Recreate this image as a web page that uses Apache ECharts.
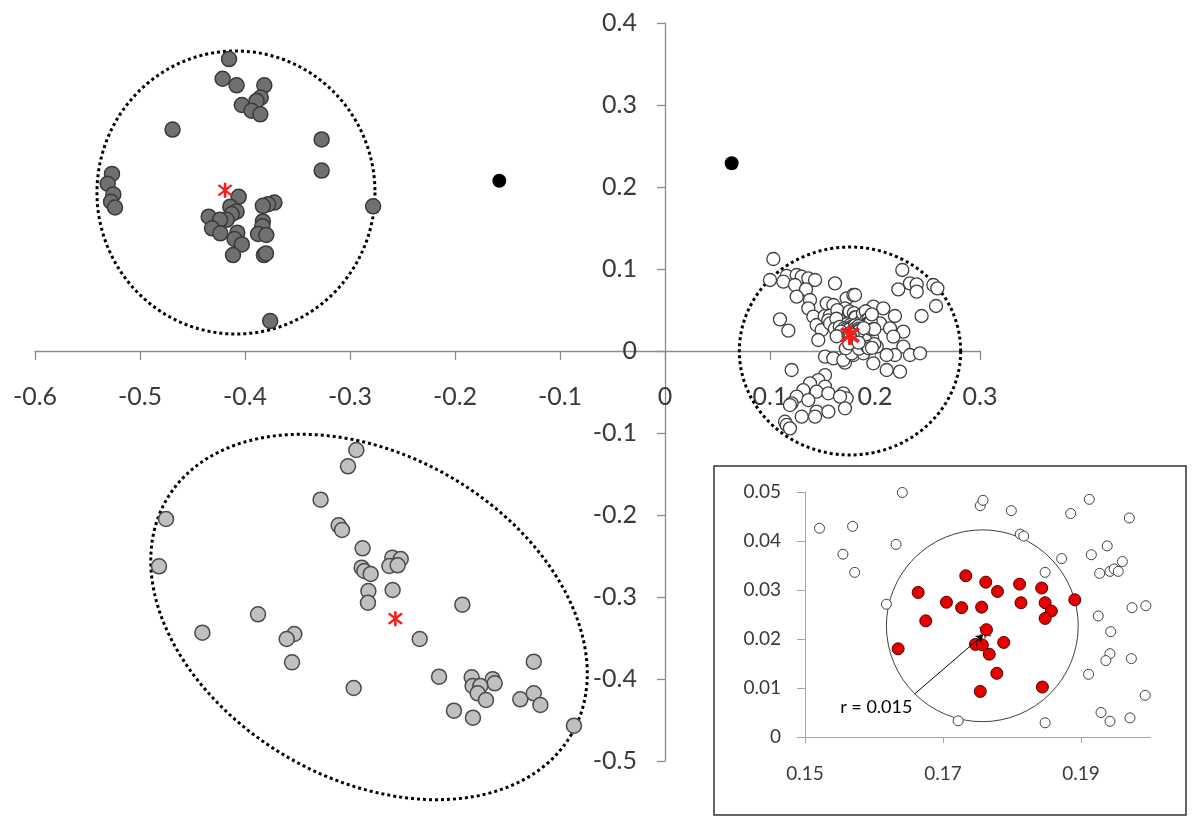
<!DOCTYPE html>
<html><head><meta charset="utf-8">
<script src="https://cdn.jsdelivr.net/npm/echarts@6/dist/echarts.min.js"></script>
<style>html,body{margin:0;padding:0;background:#fff}#c{width:1200px;height:821px}</style>
</head><body><div id="c"></div>
<script>
// ---------- main chart data ----------
const mainXRange = [-0.6, 0.3];
const mainYRange = [-0.5, 0.4];
const group1 = [
[-0.4152,0.356],[-0.4213,0.332],[-0.408,0.324],[-0.3816,0.324],[-0.385,0.309],[-0.389,0.305],[-0.403,0.300],[-0.3937,0.293],[-0.3854,0.2886],[-0.469,0.270],[-0.327,0.258],[-0.327,0.220],[-0.5267,0.216],[-0.5308,0.204],[-0.5254,0.191],[-0.5276,0.182],[-0.5238,0.175],[-0.278,0.1764],[-0.406,0.188],[-0.372,0.181],[-0.378,0.179],[-0.383,0.177],[-0.414,0.176],[-0.408,0.170],[-0.4127,0.167],[-0.4346,0.1638],[-0.4175,0.160],[-0.4238,0.160],[-0.383,0.158],[-0.3835,0.152],[-0.4314,0.1496],[-0.4235,0.1435],[-0.4073,0.1443],[-0.3876,0.1427],[-0.3797,0.1415],[-0.410,0.1366],[-0.403,0.130],[-0.4114,0.117],[-0.382,0.117],[-0.380,0.119],[-0.376,0.0366]
];
const group3 = [
[-0.294,-0.1207],[-0.3019,-0.1406],[-0.328,-0.1813],[-0.4752,-0.2049],[-0.3108,-0.2126],[-0.3076,-0.2183],[-0.288,-0.2406],[-0.4819,-0.2626],[-0.2597,-0.252],[-0.2517,-0.2537],[-0.2625,-0.2622],[-0.2546,-0.2614],[-0.2889,-0.2642],[-0.2863,-0.2683],[-0.2803,-0.272],[-0.2594,-0.2915],[-0.2825,-0.2927],[-0.2829,-0.307],[-0.193,-0.3094],[-0.3876,-0.3211],[-0.4406,-0.3435],[-0.353,-0.3451],[-0.3603,-0.3512],[-0.2336,-0.3512],[-0.3552,-0.3797],[-0.125,-0.3789],[-0.2965,-0.411],[-0.2152,-0.3972],[-0.1841,-0.398],[-0.1641,-0.4004],[-0.1622,-0.4053],[-0.1832,-0.4085],[-0.1759,-0.4085],[-0.1784,-0.4175],[-0.1705,-0.4256],[-0.1378,-0.4248],[-0.125,-0.4175],[-0.1187,-0.4317],[-0.201,-0.4386],[-0.1829,-0.4472],[-0.0867,-0.4569]
];
const group2Outer = [
[0.1032,0.1122],[0.1000,0.0866],[0.1159,0.0915],[0.1127,0.0845],[0.1254,0.0927],[0.1302,0.0906],[0.1365,0.0886],[0.1429,0.0866],[0.1238,0.0805],[0.1343,0.0752],[0.1254,0.0663],[0.1381,0.0622],[0.1365,0.0520],[0.1413,0.0419],[0.1444,0.0317],[0.1492,0.0256],[0.1460,0.0134],[0.1540,0.0581],[0.1619,0.0825],[0.1603,0.0561],[0.1095,0.0386],[0.1175,0.0248],[0.1730,0.0642],[0.1794,0.0683],[0.1810,0.0683],[0.1714,0.0520],[0.1524,-0.0069],[0.1603,-0.0090],[0.1714,-0.0142],[0.1794,-0.0049],[0.1698,-0.0110],[0.1778,-0.0030],[0.1984,0.0541],[0.2079,0.0520],[0.2190,0.0427],[0.2048,0.0337],[0.2143,0.0276],[0.2270,0.0236],[0.2175,0.0175],[0.2270,0.0053],[0.2333,-0.0049],[0.2429,-0.0028],[0.2190,-0.0049],[0.2016,0.0053],[0.2111,-0.0049],[0.1984,-0.0150],[0.2111,-0.0232],[0.2238,-0.0252],[0.1889,-0.0028],[0.2260,0.0988],[0.2222,0.0752],[0.2333,0.0825],[0.2397,0.0813],[0.2397,0.0724],[0.2556,0.0805],[0.2594,0.0764],[0.2581,0.0549],[0.2444,0.0427],[0.1206,-0.0232],[0.1524,-0.0293],[0.1460,-0.0354],[0.1381,-0.0394],[0.1524,-0.0435],[0.1317,-0.0476],[0.1444,-0.0496],[0.1556,-0.0516],[0.1254,-0.0557],[0.1698,-0.0516],[0.1730,-0.0577],[0.1667,-0.0557],[0.1206,-0.0638],[0.1365,-0.0598],[0.1190,-0.0659],[0.1444,-0.0740],[0.1556,-0.0740],[0.1302,-0.0801],[0.1429,-0.0800],[0.1714,-0.0699],[0.1143,-0.0862],[0.1159,-0.0902],[0.1190,-0.0943]
];
const outliers = [[-0.1578,0.2077],[0.0635,0.229]];
const centroids = [[-0.419,0.196],[-0.2568,-0.3264]];
const centroid2 = [[0.1762,0.0195]];
// [centre x, centre y, semi-axis along x units, semi-axis along y units, tilt (deg)]
const clusterOutlines = [
  [-0.4086,0.1933,0.1324,0.1726,0],
  [0.1762,0.0,0.1054,0.1268,0],
  [-0.2819,-0.3244,0.2229,0.1976,30]
];

// ---------- inset data ----------
const insetXRange = [0.15, 0.2];
const insetYRange = [0, 0.05];
const insetXTicks = [0.15, 0.17, 0.19];
const insetOpen = [
[0.1521,0.0426],[0.1569,0.0430],[0.1555,0.0373],[0.1572,0.0336],[0.1641,0.0499],[0.1632,0.0393],[0.1618,0.0271],[0.1722,0.0033],[0.1754,0.0472],[0.1758,0.0483],[0.1799,0.0462],[0.1812,0.0414],[0.1817,0.0410],[0.1848,0.0336],[0.1872,0.0364],[0.1848,0.0029],[0.1885,0.0456],[0.1912,0.0485],[0.1915,0.0372],[0.1938,0.0390],[0.1927,0.0334],[0.1942,0.0338],[0.1948,0.0343],[0.1954,0.0338],[0.1960,0.0358],[0.1970,0.0447],[0.1925,0.0247],[0.1943,0.0215],[0.1942,0.0170],[0.1936,0.0156],[0.1973,0.0160],[0.1974,0.0264],[0.1994,0.0268],[0.1911,0.0128],[0.1993,0.0085],[0.1929,0.0050],[0.1942,0.0032],[0.1971,0.0039]
];
const insetRed = [
[0.1733,0.0329],[0.1762,0.0316],[0.1779,0.0297],[0.1664,0.0295],[0.1705,0.0275],[0.1727,0.0264],[0.1756,0.0265],[0.1811,0.0312],[0.1813,0.0274],[0.1843,0.0304],[0.1848,0.0274],[0.1857,0.0257],[0.1848,0.0242],[0.1891,0.0280],[0.1675,0.0237],[0.1635,0.0180],[0.1763,0.0219],[0.1747,0.0189],[0.1757,0.0188],[0.1788,0.0193],[0.1767,0.0169],[0.1778,0.0130],[0.1754,0.0093],[0.1844,0.0102]
];
const insetCentre = [[0.1761,0.0215]];
const insetCircle = [[0.1757,0.0227,0.0139]];
const pointerLine = [[0.1659,0.0088],[0.1758,0.0208]];
const radiusLabel = [[0.1551,0.0061,'r = 0.015']];

const group2All = group2Outer.concat(insetOpen, insetRed);

const STAR = 'path://M8.5,0L11.5,0L11.5,20L8.5,20Z M1,4.1L3,1.9L19,15.9L17,18.1Z M17,1.9L19,4.1L3,18.1L1,15.9Z';
const FONT = 'Lato';

// main plot box in pixels
const G = {left: 35, top: 23, width: 945, height: 738};
// offsets placing the axes through the origin
const xAxisShift = -(G.height * (0 - mainYRange[0]) / (mainYRange[1] - mainYRange[0]));
const yAxisShift = -(G.width * (0 - mainXRange[0]) / (mainXRange[1] - mainXRange[0]));

function renderOutline(params, api) {
  const c = api.coord([api.value(0), api.value(1)]);
  const a = api.size([api.value(2), 0])[0];
  const b = api.size([0, api.value(3)])[1];
  const th = api.value(4) * Math.PI / 180;
  const pts = [];
  const N = 180;
  for (let i = 0; i <= N; i++) {
    const t = i / N * 2 * Math.PI;
    const dx = a * Math.cos(t), dy = b * Math.sin(t);
    pts.push([c[0] + dx * Math.cos(th) - dy * Math.sin(th), c[1] + dx * Math.sin(th) + dy * Math.cos(th)]);
  }
  return {type: 'polyline', shape: {points: pts}, style: {fill: null, stroke: '#000', lineWidth: 3, lineDash: [3, 3]}};
}

const chart = echarts.init(document.getElementById('c'), null, {renderer: 'canvas'});
chart.setOption({
  animation: false,
  backgroundColor: '#fff',
  textStyle: {fontFamily: FONT},
  grid: [
    {left: G.left, top: G.top, width: G.width, height: G.height, containLabel: false, outerBoundsMode: 'none'},
    {left: 805, top: 492, width: 345, height: 245, containLabel: false, outerBoundsMode: 'none'}
  ],
  xAxis: [
    {type: 'value', gridIndex: 0, position: 'bottom', offset: xAxisShift, min: mainXRange[0], max: mainXRange[1], interval: 0.1,
     axisLine: {onZero: false, lineStyle: {color: '#8c8c8c', width: 1.3}},
     axisTick: {show: true, inside: false, length: 9, lineStyle: {color: '#8c8c8c', width: 1.3}},
     axisLabel: {fontSize: 25, color: '#3a3a3a', margin: 33, fontFamily: FONT},
     splitLine: {show: false}},
    {type: 'value', gridIndex: 1, min: insetXRange[0], max: insetXRange[1], z: 20,
     axisLine: {onZero: false, lineStyle: {color: '#a6a6a6', width: 1}},
     axisTick: {show: true, length: 6, customValues: insetXTicks, lineStyle: {color: '#a6a6a6'}},
     axisLabel: {fontSize: 19, color: '#3a3a3a', margin: 27, customValues: insetXTicks, fontFamily: FONT},
     splitLine: {show: false}}
  ],
  yAxis: [
    {type: 'value', gridIndex: 0, position: 'left', offset: yAxisShift, min: mainYRange[0], max: mainYRange[1], interval: 0.1,
     axisLine: {show: true, onZero: false, lineStyle: {color: '#8c8c8c', width: 1.3}},
     axisTick: {show: true, length: 8, lineStyle: {color: '#8c8c8c', width: 1.3}},
     axisLabel: {fontSize: 25, color: '#3a3a3a', margin: 28, fontFamily: FONT},
     splitLine: {show: false}},
    {type: 'value', gridIndex: 1, min: insetYRange[0], max: insetYRange[1], interval: 0.01, z: 20,
     axisLine: {show: true, onZero: false, lineStyle: {color: '#a6a6a6', width: 1}},
     axisTick: {show: true, length: 8, lineStyle: {color: '#a6a6a6'}},
     axisLabel: {fontSize: 19, color: '#3a3a3a', margin: 24, fontFamily: FONT},
     splitLine: {show: false}}
  ],
  graphic: [
    {type: 'rect', z: 15, shape: {x: 714, y: 466, width: 472, height: 349},
     style: {fill: '#fff', stroke: '#333', lineWidth: 1.5}}
  ],
  series: [
    {type: 'custom', xAxisIndex: 0, yAxisIndex: 0, data: clusterOutlines, encode: {x: 0, y: 1},
     renderItem: renderOutline, clip: false, silent: true, z: 1},
    {type: 'scatter', xAxisIndex: 0, yAxisIndex: 0, data: group1, symbolSize: 15,
     itemStyle: {color: '#707070', borderColor: '#3a3a3a', borderWidth: 1.5, opacity: 1}, z: 3},
    {type: 'scatter', xAxisIndex: 0, yAxisIndex: 0, data: group3, symbolSize: 15,
     itemStyle: {color: '#c0c0c0', borderColor: '#4a4a4a', borderWidth: 1.5, opacity: 1}, z: 3},
    {type: 'scatter', xAxisIndex: 0, yAxisIndex: 0, data: group2All, symbolSize: 13,
     itemStyle: {color: '#fff', borderColor: '#404040', borderWidth: 1.3, opacity: 1}, z: 3},
    {type: 'scatter', xAxisIndex: 0, yAxisIndex: 0, data: outliers, symbolSize: 14,
     itemStyle: {color: '#000', opacity: 1}, z: 3},
    {type: 'scatter', xAxisIndex: 0, yAxisIndex: 0, data: centroids, symbol: STAR, symbolSize: 15,
     itemStyle: {color: '#ff1a1a', opacity: 1}, z: 5},
    {type: 'scatter', xAxisIndex: 0, yAxisIndex: 0, data: centroid2, symbol: STAR, symbolSize: 19,
     itemStyle: {color: '#ff1a1a', borderColor: '#ff1a1a', borderWidth: 1, opacity: 1}, z: 5},

    // inset
    {type: 'custom', xAxisIndex: 1, yAxisIndex: 1, data: insetCircle, encode: {x: 0, y: 1}, z: 20, clip: false, silent: true,
     renderItem: function (params, api) {
       const c = api.coord([api.value(0), api.value(1)]);
       const r = api.size([api.value(2), 0])[0];
       return {type: 'circle', shape: {cx: c[0], cy: c[1], r: r}, style: {fill: null, stroke: '#404040', lineWidth: 1}};
     }},
    {type: 'scatter', xAxisIndex: 1, yAxisIndex: 1, data: insetOpen, symbolSize: 10, z: 21,
     itemStyle: {color: '#fff', borderColor: '#404040', borderWidth: 1, opacity: 1}},
    {type: 'scatter', xAxisIndex: 1, yAxisIndex: 1, data: insetCentre, symbol: STAR, symbolSize: 13, z: 21,
     itemStyle: {color: '#777', opacity: 1}},
    {type: 'scatter', xAxisIndex: 1, yAxisIndex: 1, data: insetRed, symbolSize: 12, z: 22,
     itemStyle: {color: '#e60000', borderColor: '#4a0000', borderWidth: 1, opacity: 1}},
    {type: 'lines', coordinateSystem: 'cartesian2d', xAxisIndex: 1, yAxisIndex: 1, z: 23,
     data: [{coords: pointerLine}], symbol: ['none', 'arrow'], symbolSize: 7,
     lineStyle: {color: '#000', width: 1, opacity: 1}},
    {type: 'custom', xAxisIndex: 1, yAxisIndex: 1, data: radiusLabel, encode: {x: 0, y: 1}, z: 23, clip: false, silent: true,
     renderItem: function (params, api) {
       const c = api.coord([api.value(0), api.value(1)]);
       return {type: 'text', x: c[0], y: c[1],
         style: {text: radiusLabel[params.dataIndex][2], fill: '#000', fontSize: 18, fontFamily: FONT, align: 'left', verticalAlign: 'middle'}};
     }}
  ]
});
</script>
</body></html>
